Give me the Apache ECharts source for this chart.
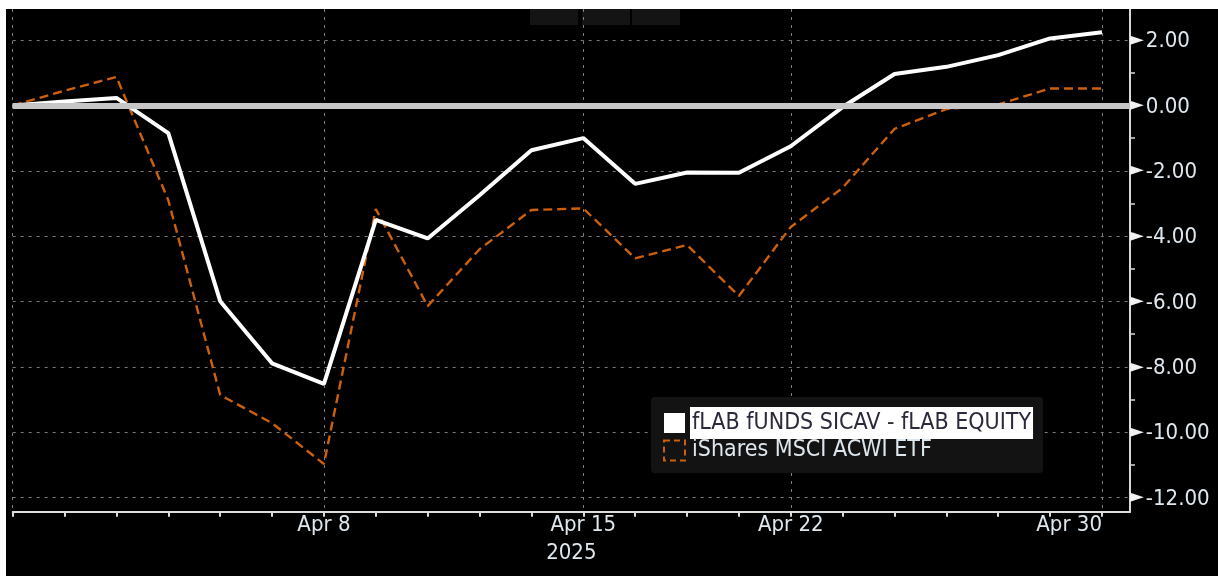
<!DOCTYPE html>
<html><head><meta charset="utf-8">
<script src="https://cdn.jsdelivr.net/npm/echarts@6/dist/echarts.min.js"></script>
<style>
html,body{margin:0;padding:0;background:#fff;width:1218px;height:576px;overflow:hidden}
#c{position:absolute;left:6px;top:9px;width:1212px;height:567px;background:#000}
</style>
</head><body><div id="c"></div>
<script>
// ---- data ----
const dates = ['Mar 31','Apr 1','Apr 2','Apr 3','Apr 4','Apr 7','Apr 8','Apr 9','Apr 10','Apr 11','Apr 14','Apr 15','Apr 16','Apr 17','Apr 21','Apr 22','Apr 23','Apr 24','Apr 25','Apr 28','Apr 29','Apr 30'];
const flab = [0, 0.12, 0.23, -0.85, -5.99, -7.89, -8.52, -3.5, -4.07, -2.75, -1.37, -1.0, -2.4, -2.05, -2.06, -1.25, -0.05, 0.96, 1.18, 1.54, 2.05, 2.24];
const acwi = [0, 0.45, 0.87, -2.9, -8.86, -9.72, -10.97, -3.17, -6.14, -4.4, -3.2, -3.15, -4.68, -4.27, -5.83, -3.72, -2.52, -0.72, -0.11, 0.03, 0.52, 0.52];
const seriesNames = ['fLAB fUNDS SICAV - fLAB EQUITY', 'iShares MSCI ACWI ETF'];
const xTickLabels = ['Apr 8', 'Apr 15', 'Apr 22', 'Apr 30'];
const xGridDates = ['Mar 31', 'Apr 8', 'Apr 15', 'Apr 22', 'Apr 30'];
const yearLabel = '2025';
const yTickLabels = [-12, -10, -8, -6, -4, -2, 0, 2];
const yMinorTicks = [-12, -11, -10, -9, -8, -7, -6, -5, -4, -3, -2, -1, 0, 1, 2];

// ---- style ----
const FONT = "'DejaVu Sans Condensed','DejaVu Sans',sans-serif";
const LBL = '#dfe7ee';
const ORANGE = '#cc600c';
const X_MIN = 0, X_MAX = 21.54, Y_MIN = -12.43, Y_MAX = 2.95;
const idx = d => dates.indexOf(d);
const gridRect = {left: 6.7, right: 88, top: 0, bottom: 64.3, containLabel: false, outerBoundsMode: 'none'};
const dotted = {color: '#7c7c7c', width: 1, type: [3, 5]};

const chart = echarts.init(document.getElementById('c'), null, {renderer: 'canvas'});
chart.setOption({
  backgroundColor: '#000',
  animation: false,
  grid: [Object.assign({}, gridRect), Object.assign({}, gridRect)],
  xAxis: [
    {
      type: 'value', gridIndex: 0, min: X_MIN, max: X_MAX, position: 'bottom',
      axisLine: {show: true, onZero: false, lineStyle: {color: '#dcdcdc', width: 2}},
      axisTick: {show: true, inside: false, length: 5, customValues: dates.map((d, i) => i), lineStyle: {color: '#dcdcdc', width: 2}},
      axisLabel: {show: true, customValues: xTickLabels.map(idx), formatter: v => dates[Math.round(v)],
        color: LBL, fontFamily: FONT, fontSize: 22, margin: 3, alignMaxLabel: 'right'},
      splitLine: {show: false},
      name: yearLabel, nameLocation: 'middle', nameGap: 31,
      nameTextStyle: {color: LBL, fontFamily: FONT, fontSize: 22}
    },
    {
      type: 'value', gridIndex: 1, min: X_MIN, max: X_MAX, position: 'bottom',
      axisLine: {show: false, onZero: false}, axisTick: {show: false, customValues: xGridDates.map(idx)},
      axisLabel: {show: false}, splitLine: {show: true, lineStyle: dotted}
    }
  ],
  yAxis: [
    {
      type: 'value', gridIndex: 0, min: Y_MIN, max: Y_MAX, position: 'right',
      axisLine: {show: true, onZero: false, lineStyle: {color: '#d8d8d8', width: 2}},
      axisTick: {show: true, inside: false, length: 5, customValues: yMinorTicks, lineStyle: {color: '#d8d8d8', width: 1.5}},
      axisLabel: {
        show: true, customValues: yTickLabels, margin: 0,
        formatter: v => '{t|\u25BA}{v|' + v.toFixed(2) + '}',
        rich: {
          t: {fontFamily: 'DejaVu Sans', fontSize: 18, color: '#f2f2f2', padding: [0, 2, 0, 0], verticalAlign: 'middle'},
          v: {fontFamily: FONT, fontSize: 22, color: LBL, verticalAlign: 'middle', padding: [3, 0, 0, 0]}
        }
      },
      splitLine: {show: false}
    },
    {
      type: 'value', gridIndex: 1, min: Y_MIN, max: Y_MAX, position: 'right',
      axisLine: {show: false, onZero: false}, axisTick: {show: false, customValues: yTickLabels},
      axisLabel: {show: false}, splitLine: {show: true, lineStyle: dotted}
    }
  ],
  legend: {
    show: true, orient: 'vertical', left: 645, top: 388, padding: [10, 10, 11, 12],
    backgroundColor: '#131313', borderRadius: 4,
    itemWidth: 21, itemHeight: 20, itemGap: 0, selectedMode: false, icon: 'rect',
    textStyle: {fontFamily: FONT, fontSize: 23, color: LBL, padding: [5, 2, 4, 2]},
    data: [
      {name: seriesNames[0], icon: 'rect', itemStyle: {color: '#ffffff', borderWidth: 0},
        textStyle: {backgroundColor: '#ffffff', color: '#2a2a3c'}},
      {name: seriesNames[1], icon: 'rect',
        itemStyle: {color: 'rgba(0,0,0,0)', borderColor: ORANGE, borderWidth: 2, borderType: [6, 4]}}
    ]
  },
  graphic: [
    {type: 'rect', left: 524, top: 0, shape: {width: 48, height: 16}, style: {fill: '#141414'}, silent: true},
    {type: 'rect', left: 576, top: 0, shape: {width: 48, height: 16}, style: {fill: '#141414'}, silent: true},
    {type: 'rect', left: 626, top: 0, shape: {width: 48, height: 16}, style: {fill: '#141414'}, silent: true}
  ],
  series: [
    {
      name: seriesNames[0], type: 'line', xAxisIndex: 0, yAxisIndex: 0,
      data: flab.map((v, i) => [i, v]), showSymbol: false, symbol: 'none', silent: true, z: 3,
      lineStyle: {color: '#ffffff', width: 4}, itemStyle: {color: '#ffffff'}
    },
    {
      name: seriesNames[1], type: 'line', xAxisIndex: 0, yAxisIndex: 0,
      data: acwi.map((v, i) => [i, v]), showSymbol: false, symbol: 'none', silent: true, z: 2,
      lineStyle: {color: ORANGE, width: 2.4, type: [9, 5]}, itemStyle: {color: ORANGE},
      markLine: {
        silent: true, symbol: ['none', 'none'], label: {show: false}, animation: false, z: 5,
        lineStyle: {color: '#c6c6c6', width: 6, type: 'solid'},
        data: [{yAxis: 0}]
      }
    }
  ]
});
</script>
</body></html>
